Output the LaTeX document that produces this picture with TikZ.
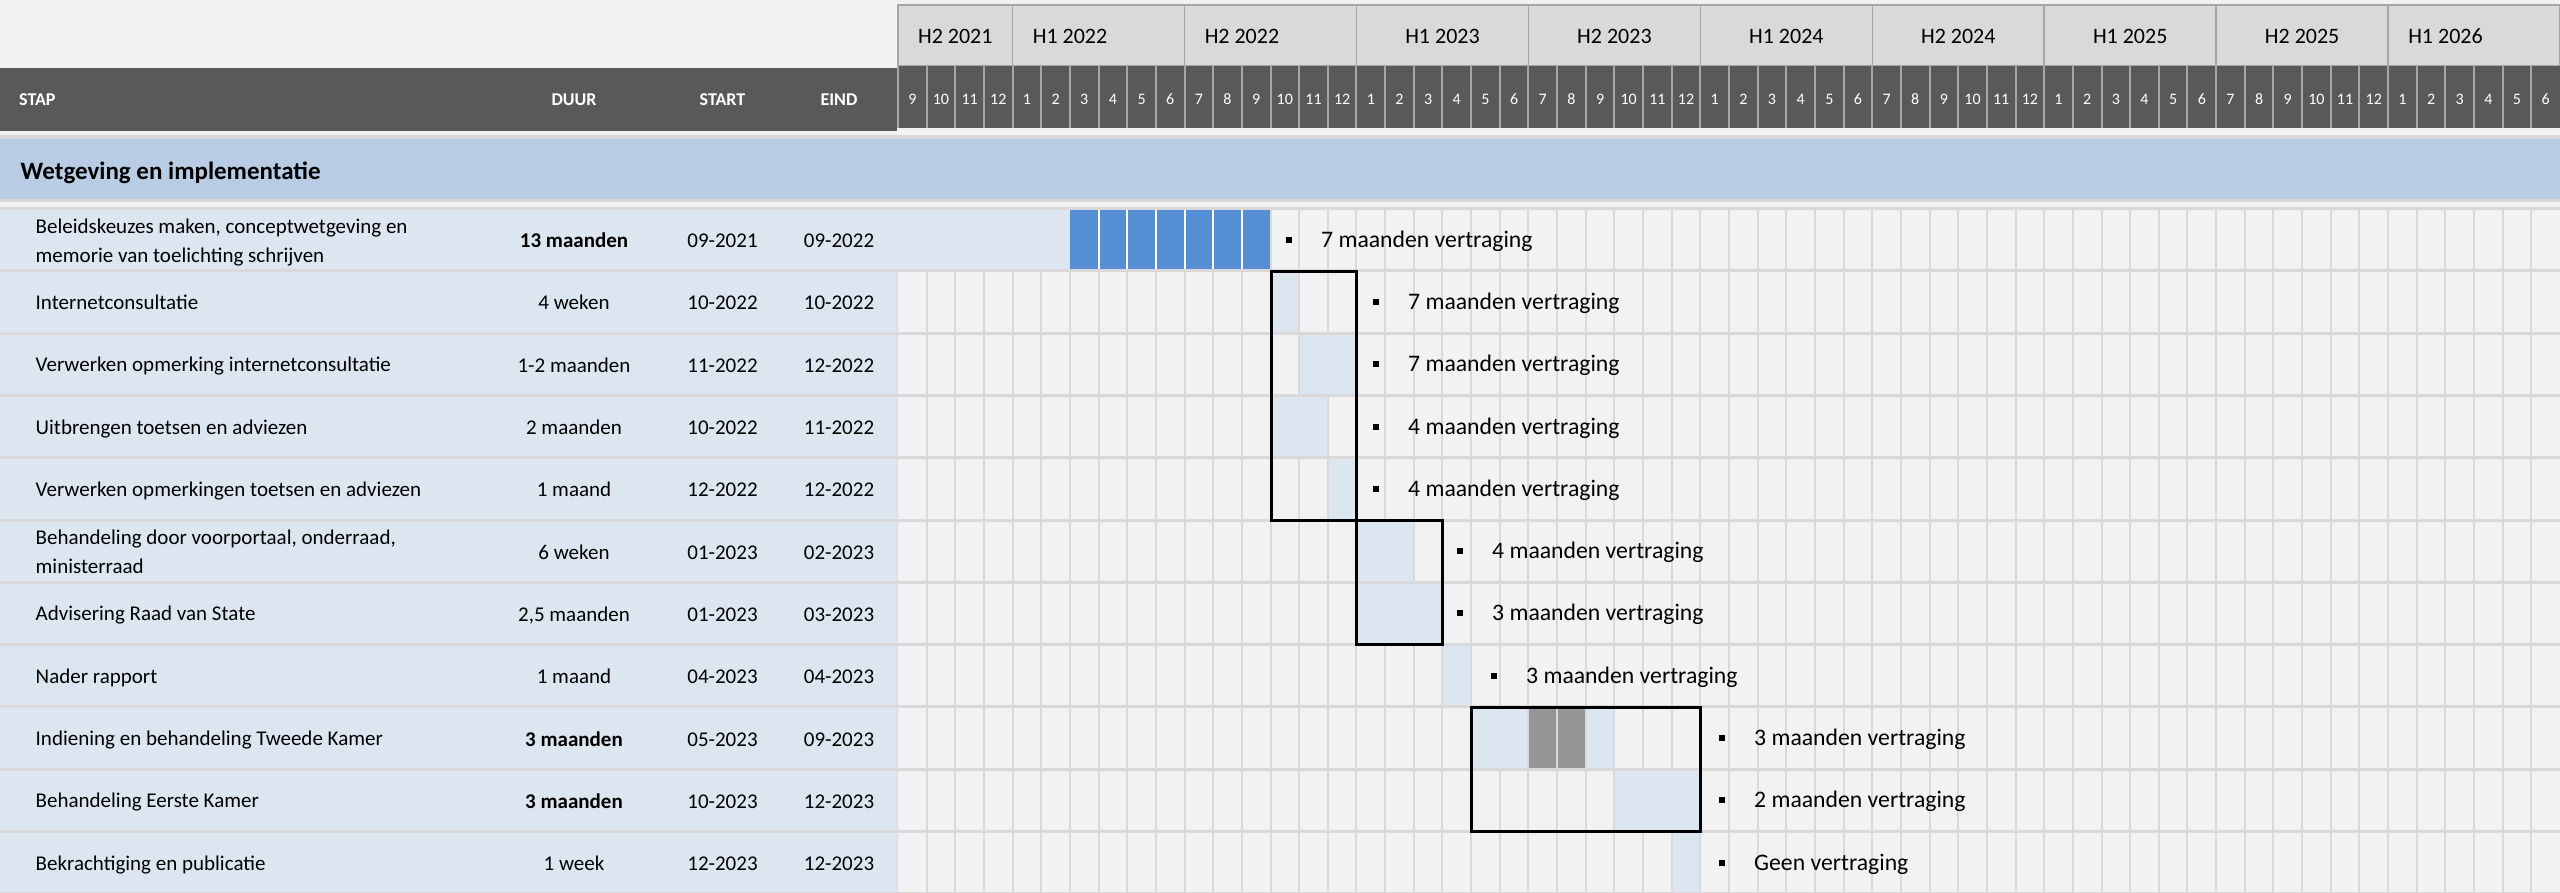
\documentclass[tikz,border=0pt]{standalone}
\usepackage{fontspec}
\setmainfont{Carlito}
\usepackage{tikz}
\usetikzlibrary{positioning,calc}
\definecolor{hdrdark}{HTML}{595959}
\definecolor{hdrgray}{HTML}{D9D9D9}
\definecolor{bordgray}{HTML}{A6A6A6}
\definecolor{bggray}{HTML}{F2F2F2}
\definecolor{gridgray}{HTML}{D9D9D9}
\definecolor{rowblue}{HTML}{DCE6F1}
\definecolor{secblue}{HTML}{B8CCE4}
\definecolor{delayblue}{HTML}{558ED5}
\definecolor{pausegray}{HTML}{969696}
\tikzset{periodbox/.style={fill=hdrgray, draw=bordgray, line width=1.5pt}}
\tikzset{monthline/.style={draw=bordgray, line width=2pt}}
\tikzset{gridline/.style={draw=gridgray, line width=2pt}}
\tikzset{delaybox/.style={draw=black, line width=3pt}}
\tikzset{periodtxt/.style={inner sep=0, font=\fontsize{22}{26}\selectfont}}
\tikzset{monthtxt/.style={anchor=base, inner sep=0, text=white, font=\fontsize{16}{18}\selectfont}}
\tikzset{hdrtxt/.style={inner sep=0, text=white, font=\bfseries\fontsize{18}{21}\selectfont}}
\tikzset{sectxt/.style={anchor=base west, inner sep=0, font=\bfseries\fontsize{25}{30}\selectfont}}
\tikzset{rowtxt/.style={anchor=base west, inner sep=0, align=left, font=\fontsize{21}{29}\selectfont}}
\tikzset{coltxt/.style={anchor=base, inner sep=0, font=\fontsize{21}{29}\selectfont}}
\tikzset{delaytxt/.style={anchor=base west, inner sep=0, font=\fontsize{23.7}{28}\selectfont}}
\tikzset{bulletsq/.style={fill=black, minimum size=6pt, inner sep=0}}

\begin{document}
\begin{tikzpicture}[x=1pt,y=-1pt]
  \def\gx{898} \def\cw{28.655} \def\ry{210} \def\rp{62.3} \def\rh{59.3}
  \useasboundingbox (0,0) rectangle (2560,893);
  \fill[bggray] (0,0) rectangle (2560,893);
  % halfjaren
  \foreach \a/\b/\lab/\anc/\dx in {0/4/H2 2021/base/57.3, 4/10/H1 2022/base west/20,
      10/16/H2 2022/base west/20, 16/22/H1 2023/base/86, 22/28/H2 2023/base/86,
      28/34/H1 2024/base/86, 34/40/H2 2024/base/86, 40/46/H1 2025/base/86,
      46/52/H2 2025/base/86, 52/58/H1 2026/base west/20} {
    \draw[periodbox] ({\gx+\a*\cw},5) rectangle ({\gx+\b*\cw},66);
    \node[periodtxt, anchor=\anc] (P\a) at ({\gx+\a*\cw+\dx},43.3) {\lab};
  }
  % maanden
  \fill[hdrdark] (\gx,66) rectangle (2560,128);
  \foreach \i in {0,...,57} {
    \draw[monthline] ({\gx+\i*\cw},66) -- ({\gx+\i*\cw},128);
    \pgfmathtruncatemacro\m{mod(\i+8,12)+1}
    \node[monthtxt] (M\i) at ({\gx+(\i+0.5)*\cw},104.3) {\m};
  }
  \fill[hdrdark] (0,68) rectangle (897,131);
  \node[hdrtxt, anchor=base west] (STAP) at (19,106) {STAP};
  \node[hdrtxt, anchor=base] (DUUR) at (574,106) {DUUR};
  \node[hdrtxt, anchor=base] (START) at (722.5,106) {START};
  \node[hdrtxt, anchor=base] (EIND) at (839,106) {EIND};
  % sectie
  \fill[gridgray] (0,135) rectangle (2560,893);
  \fill[secblue] (0,139) rectangle (2560,199);
  \fill[bggray] (0,202) rectangle (2560,207);
  \node[sectxt] (SEC) at (20.5,180) {Wetgeving en implementatie};
  % rijen en raster
  \foreach \k in {1,...,11} {
    \pgfmathsetmacro\t{\ry+(\k-1)*\rp}
    \pgfmathsetmacro\b{\t+\rh}
    \fill[rowblue] (0,\t) rectangle (897,\b);
    \fill[bggray] (\gx,\t) rectangle (2560,\b);
    \foreach \i in {1,...,57} \draw[gridline] ({\gx+\i*\cw},\t) -- ({\gx+\i*\cw},\b);
  }
  % eerste stap met vertraging
  \fill[rowblue] (896,\ry) rectangle ({\gx+6*\cw},{\ry+\rh});
  \fill[delayblue] ({\gx+6*\cw},\ry) rectangle ({\gx+13*\cw-1},{\ry+\rh});
  \foreach \i in {7,...,12} \draw[white, line width=2pt] ({\gx+\i*\cw},\ry) -- ({\gx+\i*\cw},{\ry+\rh});
  % balken
  \foreach \k/\a/\b in {2/13/13, 3/14/15, 4/13/14, 5/15/15, 6/16/17, 7/16/18,
      8/19/19, 9/20/24, 10/25/27, 11/27/27} {
    \pgfmathsetmacro\t{\ry+(\k-1)*\rp}
    \fill[rowblue] ({\gx+\a*\cw+1},\t) rectangle ({\gx+(\b+1)*\cw-1},{\t+\rh});
  }
  \pgfmathsetmacro\t{\ry+8*\rp}
  \foreach \i in {22,23} \fill[pausegray] ({\gx+\i*\cw+1},\t) rectangle ({\gx+(\i+1)*\cw-1},{\t+\rh});
  \foreach \i in {22,23,24} \draw[gridline] ({\gx+\i*\cw},\t) -- ({\gx+\i*\cw},{\t+\rh});
  % teksten per stap
  \foreach \k/\txt/\dur/\st/\en/\dy in {
      1/{Beleidskeuzes maken, conceptwetgeving en\\memorie van toelichting schrijven}/\textbf{13 maanden}/09-2021/09-2022/23,
      2/Internetconsultatie/4 weken/10-2022/10-2022/7.5,
      3/Verwerken opmerking internetconsultatie/1-2 maanden/11-2022/12-2022/7.5,
      4/Uitbrengen toetsen en adviezen/2 maanden/10-2022/11-2022/7.5,
      5/Verwerken opmerkingen toetsen en adviezen/1 maand/12-2022/12-2022/7.5,
      6/{Behandeling door voorportaal, onderraad,\\ministerraad}/6 weken/01-2023/02-2023/22.5,
      7/Advisering Raad van State/{2,5 maanden}/01-2023/03-2023/7.5,
      8/Nader rapport/1 maand/04-2023/04-2023/7.5,
      9/Indiening en behandeling Tweede Kamer/\textbf{3 maanden}/05-2023/09-2023/7.5,
      10/Behandeling Eerste Kamer/\textbf{3 maanden}/10-2023/12-2023/7.5,
      11/Bekrachtiging en publicatie/1 week/12-2023/12-2023/7.5} {
    \pgfmathsetmacro\c{\ry+(\k-1)*\rp+\rh/2}
    \node[rowtxt] (S\k) at (35.5,{\c+\dy}) {\txt};
    \node[coltxt] (D\k) at (574,{\c+8}) {\dur};
    \node[coltxt] (B\k) at (722.5,{\c+8}) {\st};
    \node[coltxt] (E\k) at (839,{\c+8}) {\en};
  }
  % vertraging
  \foreach \k/\bx/\txt in {1/1289/7 maanden vertraging, 2/1376/7 maanden vertraging,
      3/1376/7 maanden vertraging, 4/1376/4 maanden vertraging, 5/1376/4 maanden vertraging,
      6/1460/4 maanden vertraging, 7/1460/3 maanden vertraging, 8/1494/3 maanden vertraging,
      9/1722/3 maanden vertraging, 10/1722/2 maanden vertraging, 11/1722/Geen vertraging} {
    \pgfmathsetmacro\c{\ry+(\k-1)*\rp+\rh/2}
    \node[bulletsq] (Q\k) at (\bx,\c) {};
    \node[delaytxt] (V\k) at (\bx+32,{\c+7.5}) {\txt};
  }
  % kaders
  \draw[delaybox] ({\gx+13*\cw+1},271.5) rectangle ({\gx+16*\cw},520);
  \draw[delaybox] ({\gx+16*\cw},520) rectangle ({\gx+19*\cw},644.6);
  \draw[delaybox] ({\gx+20*\cw},707) rectangle ({\gx+28*\cw},831.5);
\end{tikzpicture}
\end{document}
